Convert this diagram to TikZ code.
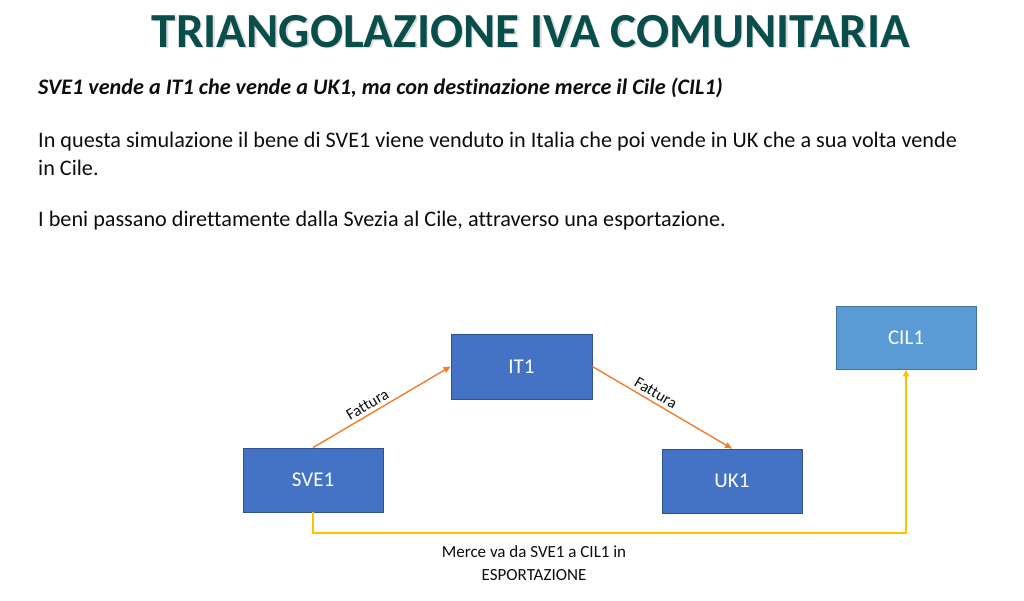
\documentclass[tikz,border=0pt]{standalone}
\usepackage{fontspec}
\setmainfont{Carlito}[Ligatures=NoCommon]
\usetikzlibrary{arrows.meta}
\definecolor{titlecol}{RGB}{9,78,74}
\definecolor{boxblue}{RGB}{68,114,196}
\definecolor{boxblueedge}{RGB}{47,82,143}
\definecolor{boxlight}{RGB}{91,155,213}
\definecolor{boxlightedge}{RGB}{65,113,156}
\definecolor{arrorange}{RGB}{237,125,49}
\definecolor{arryellow}{RGB}{255,192,0}
\definecolor{txt}{RGB}{13,13,13}
\tikzset{
  entity/.style={draw=boxblueedge, fill=boxblue, line width=0.8pt, inner sep=0pt,
    minimum width=140pt, minimum height=64pt, text=white, font=\fontsize{21}{25}\selectfont},
  entitylight/.style={entity, draw=boxlightedge, fill=boxlight},
  invoice/.style={draw=arrorange, line width=1.4pt, -{Triangle[length=7pt,width=6pt]}},
  goods/.style={draw=arryellow, line width=1.4pt, -{Triangle[length=7pt,width=6pt]}},
  lbl/.style={font=\fontsize{16}{19}\selectfont, text=txt},
  bodytext/.style={font=\fontsize{22.2}{28}\selectfont, text=txt, anchor=base west, inner sep=0pt}
}
\begin{document}
\begin{tikzpicture}[x=1pt,y=-1pt]
\useasboundingbox (0,0) rectangle (1024,601);
% title with shadow
\node[anchor=base, inner sep=0pt, text=black!40, opacity=0.35, font=\fontsize{49}{53}\bfseries] (titleshadow) at (532.5,49) {TRIANGOLAZIONE IVA COMUNITARIA};
\node[anchor=base, inner sep=0pt, text=titlecol, font=\fontsize{49}{53}\bfseries] (title) at (531,47.5) {TRIANGOLAZIONE IVA COMUNITARIA};
% text
\node[bodytext, font=\fontsize{22.2}{28}\bfseries\itshape] (sub) at (38,95) {SVE1 vende a IT1 che vende a UK1, ma con destinazione merce il Cile (CIL1)};
\node[bodytext] (p1a) at (38,148) {In questa simulazione il bene di SVE1 viene venduto in Italia che poi vende in UK che a sua volta vende};
\node[bodytext] (p1b) at (38,176) {in Cile.};
\node[bodytext] (p2) at (38,227) {I beni passano direttamente dalla Svezia al Cile, attraverso una esportazione.};
% boxes
\node[entity] (sve) at (313,480) {SVE1};
\node[entity, minimum width=141pt, minimum height=65pt] (it) at (521.5,366.5) {IT1};
\node[entity] (uk) at (732,481) {UK1};
\node[entitylight, minimum height=63pt] (cil) at (906,337.5) {CIL1};
% arrows
\draw[invoice] (sve.north) -- node[lbl, pos=0.43, above, sloped, inner sep=3.5pt] {Fattura} (it.west);
\draw[invoice] (it.east) -- node[lbl, pos=0.42, above, sloped, inner sep=3.5pt] {Fattura} (uk.north);
\coordinate (corner) at (313,533);
\draw[goods] (sve.south) -- (corner) -| (cil.south);
\node[lbl, font=\fontsize{17}{22.5}\selectfont, align=center, inner sep=0pt] (merce) at (534,563) {Merce va da SVE1 a CIL1 in\\ESPORTAZIONE};
\end{tikzpicture}
\end{document}
